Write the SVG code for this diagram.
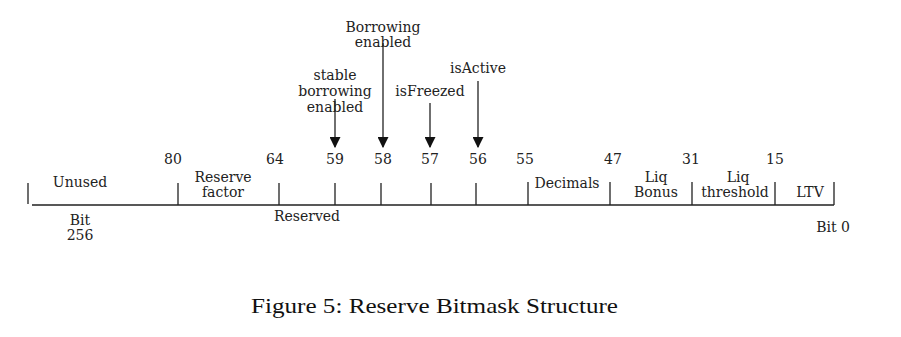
<svg xmlns="http://www.w3.org/2000/svg" width="901" height="337" viewBox="0 0 901 337">
  <style>
    .lbl { font-family: "DejaVu Serif", serif; font-size: 14px; fill: #222; text-anchor: middle; }
    .ln { stroke: #222; stroke-width: 1.3; fill: none; }
    .cap { font-family: "Liberation Serif", serif; font-size: 21px; fill: #111; }
  </style>
  <defs>
    <marker id="head" viewBox="0 0 10 10" refX="9" refY="5" markerWidth="11" markerHeight="11" markerUnits="userSpaceOnUse" orient="auto">
      <path d="M0,0 L10,5 L0,10 Z" fill="#111"/>
    </marker>
  </defs>

  <!-- bit ruler -->
  <g id="ruler">
    <path class="ln" d="M32,205 H834 M28,183 V204 M178,183 V205 M279,183 V205 M335,183 V205 M381,183 V205 M431,183 V205 M476,183 V205 M528,182 V205 M610,182 V205 M692,182 V205 M775,182 V205 M834,182 V205"/>
  </g>

  <!-- bit positions -->
  <g id="positions">
    <text class="lbl" x="173" y="164">80</text>
    <text class="lbl" x="275" y="164">64</text>
    <text class="lbl" x="335" y="164">59</text>
    <text class="lbl" x="383" y="164">58</text>
    <text class="lbl" x="430" y="164">57</text>
    <text class="lbl" x="478" y="164">56</text>
    <text class="lbl" x="525" y="164">55</text>
    <text class="lbl" x="613" y="164">47</text>
    <text class="lbl" x="691" y="164">31</text>
    <text class="lbl" x="775" y="164">15</text>
  </g>

  <!-- fields -->
  <g id="unused"><text class="lbl" x="80" y="187">Unused</text></g>
  <g id="reserve-factor">
    <text class="lbl" x="223" y="182">Reserve</text>
    <text class="lbl" x="223" y="197">factor</text>
  </g>
  <g id="reserved"><text class="lbl" x="307" y="221">Reserved</text></g>
  <g id="decimals"><text class="lbl" x="567" y="188">Decimals</text></g>
  <g id="liq-bonus">
    <text class="lbl" x="656" y="182">Liq</text>
    <text class="lbl" x="656" y="197">Bonus</text>
  </g>
  <g id="liq-threshold">
    <text class="lbl" x="738" y="182">Liq</text>
    <text class="lbl" x="735" y="197">threshold</text>
  </g>
  <g id="ltv"><text class="lbl" x="810" y="197">LTV</text></g>
  <g id="bit-256">
    <text class="lbl" x="80" y="225">Bit</text>
    <text class="lbl" x="80" y="240">256</text>
  </g>
  <g id="bit-0"><text class="lbl" x="833" y="232">Bit 0</text></g>

  <!-- flag labels -->
  <g id="stable-borrowing">
    <text class="lbl" x="335" y="80">stable</text>
    <text class="lbl" x="335" y="96">borrowing</text>
    <text class="lbl" x="335" y="112">enabled</text>
  </g>
  <g id="borrowing-enabled">
    <text class="lbl" x="383" y="32">Borrowing</text>
    <text class="lbl" x="383" y="47">enabled</text>
  </g>
  <g id="is-freezed"><text class="lbl" x="430" y="96">isFreezed</text></g>
  <g id="is-active"><text class="lbl" x="478" y="73">isActive</text></g>

  <!-- flag arrows -->
  <g id="connectors">
    <line class="ln" x1="335" y1="99" x2="335" y2="147" marker-end="url(#head)"/>
    <line class="ln" x1="383" y1="43" x2="383" y2="147" marker-end="url(#head)"/>
    <line class="ln" x1="430" y1="103" x2="430" y2="147" marker-end="url(#head)"/>
    <line class="ln" x1="478" y1="81" x2="478" y2="147" marker-end="url(#head)"/>
  </g>

  <text class="cap" x="251" y="313" textLength="367" lengthAdjust="spacingAndGlyphs">Figure 5: Reserve Bitmask Structure</text>
</svg>
